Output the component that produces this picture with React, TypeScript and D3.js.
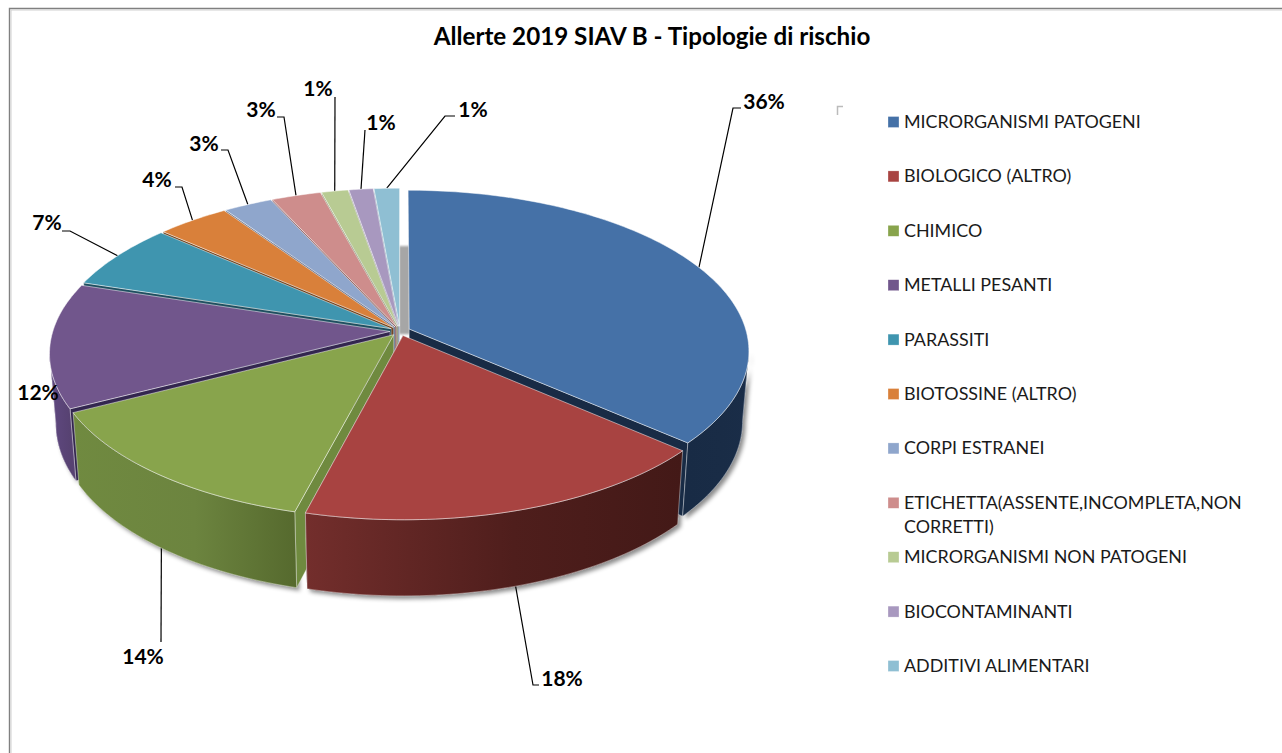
import * as d3 from "d3";
import React from "react";

const categories = [
    "MICRORGANISMI PATOGENI",
    "BIOLOGICO (ALTRO)",
    "CHIMICO",
    "METALLI PESANTI",
    "PARASSITI",
    "BIOTOSSINE (ALTRO)",
    "CORPI ESTRANEI",
    "ETICHETTA(ASSENTE,INCOMPLETA,NON CORRETTI)",
    "MICRORGANISMI NON PATOGENI",
    "BIOCONTAMINANTI",
    "ADDITIVI ALIMENTARI",
];
// slice sizes as measured on the 3d pie, the printed labels are rounded
const shares = [36.45, 17.6, 13.35, 12.5, 6.65, 3.95, 2.65, 2.7, 1.45, 1.32, 1.38];
const percentLabels = ["36%", "18%", "14%", "12%", "7%", "4%", "3%", "3%", "1%", "1%", "1%"];
const topColors = ["#4571a7", "#a84341", "#88a44c", "#71568c", "#3f95af", "#d9803a", "#8fa6cc", "#ce8d8c", "#b8cb93", "#a898bf", "#8fbfd3"];
const faceColors = ["#182b45", "#441a18", "#6f8a3f", "#33264f", "#1f4f60", "#6f4019", "#5c6d8c", "#8c5a59", "#7f8f60", "#6f6188", "#5f8c9f"];
const wallLeft = ["#182b45", "#732e2c", "#708a40", "#5f4880", "#2a6578", "#8a5020", "#5c6d8c", "#8c5a59", "#7f8f60", "#6f6188", "#5f8c9f"];
const wallMid = ["#192c46", "#4f1e1c", "#6c843f", "#5b4579", "#2a6578", "#8a5020", "#5c6d8c", "#8c5a59", "#7f8f60", "#6f6188", "#5f8c9f"];
const wallRight = ["#1a2d48", "#431917", "#566a2e", "#574272", "#2a6578", "#8a5020", "#5c6d8c", "#8c5a59", "#7f8f60", "#6f6188", "#5f8c9f"];

// label position and elbow, layout only, same order as the categories
const labelAt: [number, number][] = [[764, 102], [562, 679], [143, 657], [38, 393], [47, 223], [157, 180], [204, 144], [261, 110], [318, 89], [381, 123], [473, 110]];
const elbowAt: [number, number][][] = [
    [[733, 108], [741, 108]],
    [[533, 685], [539, 685]],
    [[161, 642]],
    [],
    [[70, 231], [62, 231]],
    [[182, 187], [175, 187]],
    [[228, 150], [221, 150]],
    [[284, 117], [277, 117]],
    [[335, 97]],
    [[365, 130]],
    [[445, 116], [455, 116]],
];

const WIDTH = 1282;
const HEIGHT = 753;
const CX = 400;
const CY = 331;
const PERSP = 0.135;
const EXPLODE = 0.03;
const DEPTH = 69;

const sx = d3.scaleLinear().domain([-1, 1]).range([CX - 337, CX + 337]);
const sy = d3.scaleLinear().domain([-1, 1]).range([CY - 158, CY + 158]);

type Pt = [number, number];

// angle is clockwise from the top, r in disk units
function disk(angle: number, r: number, off: Pt): Pt {
    return [r * Math.sin(angle) + off[0], -r * Math.cos(angle) + off[1]];
}
function top([u, v]: Pt): Pt {
    const w = 1 - PERSP * v;
    return [sx(u / w), sy(v / w)];
}
function bottom(p: Pt): Pt {
    const [x, y] = top(p);
    return [CX + (x - CX) * 0.982, y + DEPTH + (y - CY) * 0.038];
}

const lineGen = d3.line();
const closed = (pts: Pt[]) => lineGen(pts) + "Z";

const slices = d3.pie<number>().sort(null).value((d) => d)(shares).map((a, i) => {
    const mid = (a.startAngle + a.endAngle) / 2;
    const off: Pt = [EXPLODE * Math.sin(mid), -EXPLODE * Math.cos(mid)];
    return { i, start: a.startAngle, end: a.endAngle, mid, off };
});

function arcPts(s: { off: Pt }, a0: number, a1: number): Pt[] {
    const n = Math.max(2, Math.ceil(Math.abs(a1 - a0) / 0.02));
    return d3.range(n + 1).map((k) => disk(a0 + ((a1 - a0) * k) / n, 1, s.off));
}

const VIS_A = Math.acos(-PERSP);
const VIS_B = 2 * Math.PI - VIS_A;

function wallPath(s: (typeof slices)[number]) {
    const a0 = Math.max(s.start, VIS_A);
    const a1 = Math.min(s.end, VIS_B);
    if (a1 <= a0) return null;
    const wall = arcPts(s, a0, a1);
    return closed([...wall.map(top), ...wall.slice().reverse().map(bottom)]);
}

// back slices first, the two front ones last
const drawOrder = [10, 9, 8, 7, 6, 5, 4, 3, 2, 0, 1];

const legendY = d3.scalePoint<string>().domain(categories).range([122, 666]);

export default function App() {
    const gapTop = top(disk(0, 0.58, [0, 0]));
    const gapBase = top([0, 0.02]);
    return (
        <svg width={WIDTH} height={HEIGHT} style={{ position: "absolute", left: 0, top: 0, fontFamily: "Lato, sans-serif" }}>
            <defs>
                <filter id="pieShadow" x="-5%" y="-5%" width="110%" height="115%">
                    <feDropShadow dx="3" dy="3" stdDeviation="2.2" floodColor="#000" floodOpacity="0.45" />
                </filter>
                <filter id="soft"><feGaussianBlur stdDeviation="0.8" /></filter>
                {slices.map((s) => {
                    const a0 = Math.max(s.start, VIS_A);
                    const a1 = Math.min(s.end, VIS_B);
                    if (a1 <= a0) return null;
                    const x0 = top(disk(a0, 1, s.off))[0];
                    const x1 = top(disk(a1, 1, s.off))[0];
                    return (
                        <linearGradient key={s.i} id={`wall${s.i}`} gradientUnits="userSpaceOnUse" x1={Math.min(x0, x1)} x2={Math.max(x0, x1)} y1={0} y2={0}>
                            <stop offset="0" stopColor={wallLeft[s.i]} />
                            <stop offset="0.55" stopColor={wallMid[s.i]} />
                            <stop offset="1" stopColor={wallRight[s.i]} />
                        </linearGradient>
                    );
                })}
            </defs>

            <rect x={0} y={0} width={WIDTH} height={HEIGHT} fill="#fff" />
            <path d={`M9.5,${HEIGHT}V8.5H${WIDTH}`} fill="none" stroke="#808080" strokeWidth={1.4} />
            <path d={`M11,${HEIGHT}V10H${WIDTH}`} fill="none" stroke="#d0d0d0" strokeWidth={1} />

            <text x={652} y={45} textAnchor="middle" fontSize={24.2} fontWeight={700} fill="#000">Allerte 2019 SIAV B - Tipologie di rischio</text>

            <path d="M837.5,115V106.5H843" fill="none" stroke="#bbb" strokeWidth={1.5} />

            {/* leader lines go under the pie */}
            {slices.map((s) => {
                const front = s.mid > VIS_A && s.mid < VIS_B;
                const from = front ? bottom(disk(s.mid, 1, s.off)) : top(disk(s.mid, 1, s.off));
                const pts = elbowAt[s.i];
                if (!pts.length) return null;
                return <path key={s.i} d={lineGen([from, ...pts]) as string} fill="none" stroke="#000" strokeWidth={1.2} />;
            })}

            <path d={closed([[gapTop[0] - 1, gapTop[1]], [gapTop[0] + 10, gapTop[1]], [gapBase[0] + 10, gapBase[1]], [gapBase[0] - 1, gapBase[1]]])} fill="#a6a6a6" filter="url(#soft)" />

            {/* only the walls throw a shadow */}
            <g filter="url(#pieShadow)">
                {slices.map((s) => {
                    const d = wallPath(s);
                    return d ? <path key={s.i} d={d} fill={wallRight[s.i]} /> : null;
                })}
            </g>

            {drawOrder.map((i) => {
                const s = slices[i];
                const rim = arcPts(s, s.start, s.end);
                const topOutline = closed([top(s.off), ...rim.map(top)]);
                // the cut face that looks at the viewer
                const faceAngle = s.mid < Math.PI ? s.end : s.start;
                const faceRim = disk(faceAngle, 1, s.off);
                const face = closed([top(s.off), top(faceRim), bottom(faceRim), bottom(s.off)]);
                const wall = wallPath(s);
                return (
                    <g key={i}>
                        <path d={face} fill={faceColors[i]} stroke="#fff" strokeOpacity={0.45} strokeWidth={0.7} />
                        {wall && <path d={wall} fill={`url(#wall${i})`} stroke="#fff" strokeOpacity={0.5} strokeWidth={0.8} />}
                        <path d={topOutline} fill={topColors[i]} stroke="#fff" strokeOpacity={0.55} strokeWidth={0.9} strokeLinejoin="round" />
                    </g>
                );
            })}

            {percentLabels.map((d, i) => (
                <text key={i} x={labelAt[i][0]} y={labelAt[i][1] + 7} textAnchor="middle" fontSize={21} fontWeight={700} fill="#000">{d}</text>
            ))}

            {categories.map((c, i) => {
                const y = legendY(c) as number;
                const wrap = c.indexOf("NON CORRETTI");
                return (
                    <g key={c}>
                        <rect x={888} y={y - 5.5} width={11} height={11} fill={topColors[i]} stroke="#fff" strokeOpacity={0.6} strokeWidth={0.5} />
                        {wrap > 0 ? (
                            <text x={904} y={y + 6} fontSize={17.9} fill="#1a1a1a">
                                <tspan>{c.slice(0, wrap + 3)}</tspan>
                                <tspan x={904} dy={24}>{c.slice(wrap + 4)}</tspan>
                            </text>
                        ) : (
                            <text x={904} y={y + 6} fontSize={17.9} fill="#1a1a1a">{c}</text>
                        )}
                    </g>
                );
            })}
        </svg>
    );
}
